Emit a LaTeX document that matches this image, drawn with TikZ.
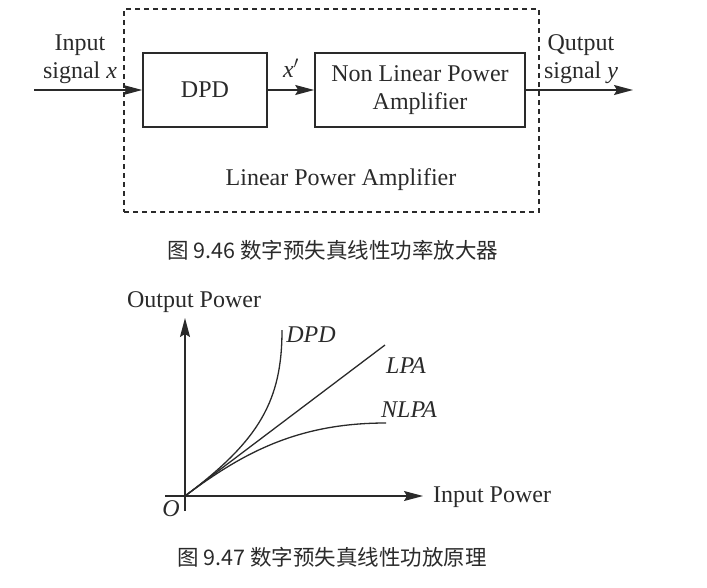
\documentclass[tikz,border=0pt]{standalone}
\usepackage{fontspec}
\setmainfont{Liberation Serif}
\newfontfamily\cjk{Noto Sans CJK SC}
\usetikzlibrary{arrows.meta}
\definecolor{ink}{HTML}{2A2A2A}
\begin{document}
\begin{tikzpicture}[x=1pt,y=-1pt,
  every node/.style={font=\fontsize{24}{28}\selectfont, text=ink, inner sep=0pt},
  blk/.style={draw=ink, line width=1.6pt},
  arr/.style={-{Stealth[length=19pt,width=10pt,inset=3pt]}, line width=1.5pt, draw=ink},
  curve/.style={draw=ink, line width=1.3pt},
  lbl/.style={font=\fontsize{24}{28}\selectfont\itshape},
  captext/.style={font=\fontsize{21.5}{24}\selectfont\cjk}]
\useasboundingbox (0,0) rectangle (707,587);
% --- Figure 9.46 ---
\node[draw=ink, line width=1.3pt, dash pattern=on 5pt off 4pt, minimum width=415pt, minimum height=203pt] (lpa) at (331.5,110.5) {};
\node[blk, minimum width=124pt, minimum height=74pt] (dpd) at (205,90) {DPD};
\node[blk, minimum width=210pt, minimum height=74pt, align=center] (nlpa) at (420,90) {Non Linear Power\\Amplifier};
\node[align=center] (inlbl) at (80,59) {Input\\signal \textit{x}};
\node[align=center] (outlbl) at (581,59) {Qutput\\signal \textit{y}};
\node (xp) at (291,68) {\textit{x}$'$};
\node (lpalbl) at (341,180) {Linear Power Amplifier};
\coordinate (in) at (34,90);
\coordinate (out) at (633,90);
\draw[arr] (in) -- (dpd.west);
\draw[arr] (dpd.east) -- (nlpa.west);
\draw[arr] (nlpa.east) -- (out);
\node[captext] (cap1) at (333,250) {图 9.46 数字预失真线性功率放大器};
% --- Figure 9.47 ---
\coordinate (o) at (185,496);
\coordinate (yb) at (185,511);
\coordinate (yt) at (185,318);
\coordinate (xl) at (165,496);
\coordinate (xr) at (423,496);
\draw[arr, line width=1.3pt] (yb) -- (yt);
\draw[arr, line width=1.3pt] (xl) -- (xr);
\coordinate (dpdend) at (282,330);
\coordinate (lpaend) at (385,345);
\coordinate (nlpaend) at (386,423);
\draw[curve] (o) .. controls (260,440) and (282,400) .. (dpdend);
\draw[curve] (o) -- (lpaend);
\draw[curve] (o) .. controls (245,451) and (300,423) .. (nlpaend);
\node (ylbl) at (194,302) {Output Power};
\node (xlbl) at (492,497) {Input Power};
\node[lbl] (olbl) at (171,509) {O};
\node[lbl] (dpdlbl) at (311,335) {DPD};
\node[lbl] (lpalbl2) at (406,366) {LPA};
\node[lbl] (nlpalbl) at (409,410) {NLPA};
\node[captext] (cap2) at (332,557) {图 9.47 数字预失真线性功放原理};
\end{tikzpicture}
\end{document}
